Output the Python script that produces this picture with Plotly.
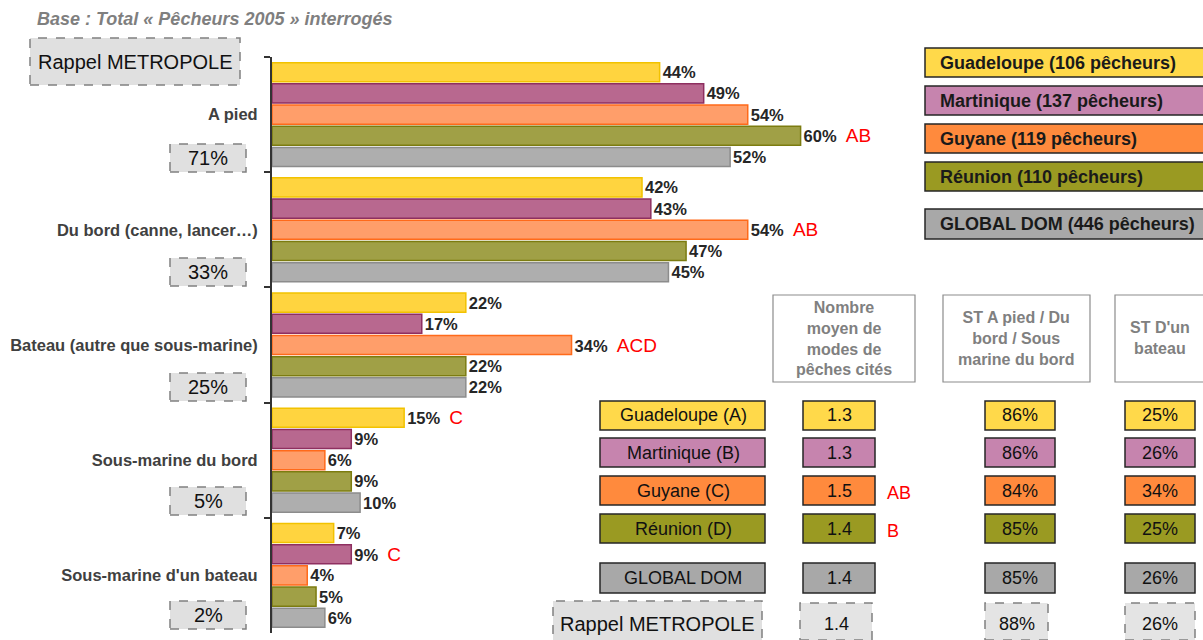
import plotly.graph_objects as go

# ---- data ----
categories = ["A pied", "Du bord (canne, lancer…)", "Bateau (autre que sous-marine)",
              "Sous-marine du bord", "Sous-marine d'un bateau"]
series_names = ["Guadeloupe", "Martinique", "Guyane", "Réunion", "GLOBAL DOM"]
guadeloupe = [44, 42, 22, 15, 7]
martinique = [49, 43, 17, 9, 9]
guyane = [54, 54, 34, 6, 4]
reunion = [60, 47, 22, 9, 5]
global_dom = [52, 45, 22, 10, 6]
sig_guadeloupe = ["", "", "", "C", ""]
sig_martinique = ["", "", "", "", "C"]
sig_guyane = ["", "AB", "ACD", "", ""]
sig_reunion = ["AB", "", "", "", ""]
sig_global = ["", "", "", "", ""]
metropole = [71, 33, 25, 5, 2]

legend_labels = ["Guadeloupe (106 pêcheurs)", "Martinique (137 pêcheurs)", "Guyane (119 pêcheurs)",
                 "Réunion (110 pêcheurs)", "GLOBAL DOM (446 pêcheurs)"]

table_rows = ["Guadeloupe (A)", "Martinique (B)", "Guyane (C)", "Réunion (D)", "GLOBAL DOM"]
nb_modes = [1.3, 1.3, 1.5, 1.4, 1.4]
nb_modes_sig = ["", "", "AB", "B", ""]
st_bord = [86, 86, 84, 85, 85]
st_bateau = [25, 26, 34, 25, 26]
metro_nb_modes = 1.4
metro_st_bord = 88
metro_st_bateau = 26
headers = ["Nombre<br>moyen de<br>modes de<br>pêches cités",
           "ST A pied / Du<br>bord / Sous<br>marine du bord",
           "ST D'un<br>bateau"]

# ---- styles ----
bar_fill = ["#FFD43F", "#B8688F", "#FF9E6A", "#A0A046", "#AEAEAE"]
bar_line = ["#F2C200", "#8E2F60", "#FF6A1A", "#7C7C10", "#8C8C8C"]
box_fill = ["#FFD94A", "#C684AE", "#FF8A3D", "#9A9A22", "#A8A8A8"]
FONT = "Liberation Sans, Arial, sans-serif"

L, T, B = 272, 57, 7
W, H = 881, 640 - T - B


def px(x):
    return (x - L) / W


def py(y):
    return (T + H - y) / H


fig = go.Figure()

all_vals = [guadeloupe, martinique, guyane, reunion, global_dom]
all_sig = [sig_guadeloupe, sig_martinique, sig_guyane, sig_reunion, sig_global]
for i, name in enumerate(series_names):
    texts = []
    for v, s in zip(all_vals[i], all_sig[i]):
        t = f"{v}%"
        if s:
            t += f"  <span style='color:#FF0000;font-weight:normal;font-size:19px'>{s}</span>"
        texts.append(t)
    fig.add_trace(go.Bar(
        y=categories, x=all_vals[i], name=name, orientation="h",
        marker=dict(color=bar_fill[i], line=dict(color=bar_line[i], width=1.5)),
        text=texts, textposition="outside", cliponaxis=False, constraintext="none",
        textfont=dict(family=FONT, size=16.5, color="#262626", weight="bold"),
        hoverinfo="skip",
    ))

shapes = []
ann = []


def box(x0, y0, x1, y1, fill, line="#262626", dash="solid", width=1.5):
    shapes.append(dict(type="rect", xref="paper", yref="paper",
                       x0=px(x0), x1=px(x1), y0=py(y1), y1=py(y0),
                       fillcolor=fill, line=dict(color=line, width=width, dash=dash), layer="above"))


def text(x, y, s, size=16, color="#111111", bold=False, italic=False, xanchor="center"):
    ann.append(dict(xref="paper", yref="paper", x=px(x), y=py(y), text=s, showarrow=False,
                    xanchor=xanchor, yanchor="middle",
                    font=dict(family=FONT, size=size, color=color,
                              weight="bold" if bold else "normal",
                              style="italic" if italic else "normal")))


# title
text(35, 19, "Base : Total « Pêcheurs 2005 » interrogés", size=18, color="#7F7F7F",
     bold=True, italic=True, xanchor="left")

# Rappel METROPOLE (left)
box(30, 38, 240, 85, "#E0E0E0", line="#808080", dash="dash")
text(135, 62, "Rappel METROPOLE", size=20)
metro_y = [158, 272, 387, 501, 615]
for v, yy in zip(metropole, metro_y):
    box(170, yy - 14, 246, yy + 14, "#E0E0E0", line="#808080", dash="dash")
    text(208, yy, f"{v}%", size=20)

# legend boxes
leg_y = [(48, 77), (86, 115), (124, 153), (162, 191), (209, 239)]
for lab, (y0, y1), c in zip(legend_labels, leg_y, box_fill):
    box(925, y0, 1215, y1, c)
    text(938, (y0 + y1) / 2, lab, size=18, bold=True, color="#1A1A1A", xanchor="left")

# table headers
for h, (x0, x1), xc in zip(headers, [(773, 915), (943, 1090), (1115, 1215)], [844, 1016, 1160]):
    box(x0, 295, x1, 382, "#FFFFFF", line="#8C8C8C", width=1.2)
    text(xc, 338, h, size=16, bold=True, color="#808080")

# table rows
row_y = [(401, 430), (438, 467), (476, 505), (514, 543), (563, 593)]
for i, (y0, y1) in enumerate(row_y):
    ym = (y0 + y1) / 2
    c = box_fill[i]
    box(600, y0, 765, y1, c)
    text(683, ym, table_rows[i], size=18)
    box(803, y0, 875, y1, c)
    text(839, ym, f"{nb_modes[i]}", size=18)
    if nb_modes_sig[i]:
        text(885, ym + 2, nb_modes_sig[i], size=18, color="#FF0000", xanchor="left")
    box(985, y0, 1055, y1, c)
    text(1020, ym, f"{st_bord[i]}%", size=18)
    box(1125, y0, 1195, y1, c)
    text(1160, ym, f"{st_bateau[i]}%", size=18)

# metropole row
box(553, 601, 762, 645, "#E0E0E0", line="#808080", dash="dash")
text(657, 624, "Rappel METROPOLE", size=20)
box(800, 603, 872, 640, "#E4E4E4", line="#808080", dash="dash")
text(836, 624, f"{metro_nb_modes}", size=18)
box(985, 603, 1048, 640, "#E4E4E4", line="#808080", dash="dash")
text(1017, 624, f"{metro_st_bord}%", size=18)
box(1125, 603, 1195, 640, "#E4E4E4", line="#808080", dash="dash")
text(1160, 624, f"{metro_st_bateau}%", size=18)

fig.update_layout(
    width=1203, height=640,
    margin=dict(l=L, r=1203 - L - W, t=T, b=B),
    barmode="group", bargap=0.08, bargroupgap=0.1,
    plot_bgcolor="white", paper_bgcolor="white",
    showlegend=False,
    shapes=shapes, annotations=ann,
    xaxis=dict(range=[0, 100], visible=False, fixedrange=True),
    yaxis=dict(autorange="reversed", showline=True, linecolor="#333333", linewidth=2,
               ticks="outside", tickson="boundaries", ticklen=6, tickcolor="#333333",
               tickwidth=1.5, ticklabelstandoff=9, showgrid=False, fixedrange=True,
               tickfont=dict(family=FONT, size=16.5, color="#404040", weight="bold")),
)

fig.write_html("out.html", config={"displayModeBar": False},
               post_script="document.body.style.margin='0';")
